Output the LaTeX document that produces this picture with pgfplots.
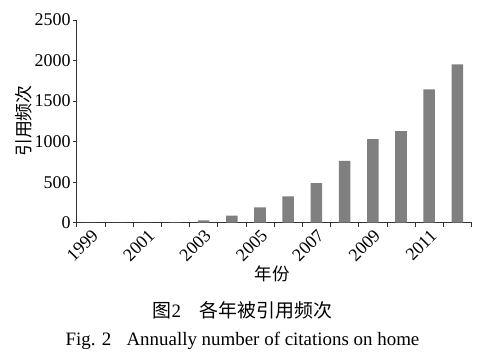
\documentclass[border=0pt]{standalone}
\usepackage{fontspec}
\setmainfont{Liberation Serif}
\newfontfamily\cjk{Noto Sans CJK SC}
\usepackage{pgfplots}
\pgfplotsset{compat=1.18}
\definecolor{bargray}{HTML}{808080}
\definecolor{axisgray}{HTML}{333333}
\begin{document}
\begin{tikzpicture}[x=1bp,y=1bp]
\path[use as bounding box] (0,0) rectangle (482,360);
\begin{axis}[
  at={(76.7bp,137.3bp)}, anchor=south west,
  scale only axis, width=394.8bp, height=202.7bp,
  xmin=-0.5, xmax=13.5, ymin=0, ymax=2500,
  axis x line*=bottom, axis y line*=left,
  axis line style={axisgray, line width=0.8bp},
  /pgf/number format/assume math mode=true,
  /pgf/number format/1000 sep={},
  ytick={0,500,1000,1500,2000,2500},
  yticklabel style={font=\fontsize{18}{18}\selectfont, inner sep=2bp},
  major y tick style={axisgray, line width=0.8bp},
  major tick length=4bp, minor tick length=4bp, tick align=outside,
  xtick={0,2,4,6,8,10,12},
  xticklabels={1999,2001,2003,2005,2007,2009,2011},
  xticklabel style={font=\fontsize{18}{18}\selectfont, rotate=45, anchor=north east, inner sep=1bp},
  major x tick style={draw=none},
  minor xtick={-0.5,0.5,1.5,2.5,3.5,4.5,5.5,6.5,7.5,8.5,9.5,10.5,11.5,12.5,13.5},
  minor x tick style={axisgray, line width=0.8bp},
  clip=false,
]
\addplot[ybar, bar width=0.41, fill=bargray, draw=none] coordinates {
(0,0) (1,0) (2,1) (3,5) (4,30) (5,86) (6,190) (7,325) (8,489) (9,764) (10,1032) (11,1130) (12,1645) (13,1953)
};
\end{axis}
\node[rotate=90, font=\cjk\fontsize{18}{18}\selectfont] at (23.5,239) {引用频次};
\node[font=\cjk\fontsize{17.5}{17.5}\selectfont] at (272,86) {年份};
\node[font=\fontsize{19}{19}\selectfont] at (242.5,50) {{\cjk 图}2\quad{\cjk 各年被引用频次}};
\node[font=\fontsize{19}{19}\selectfont] at (242.5,19.5) {Fig. 2\hspace{0.8em}Annually number of citations on home};
\end{tikzpicture}
\end{document}
